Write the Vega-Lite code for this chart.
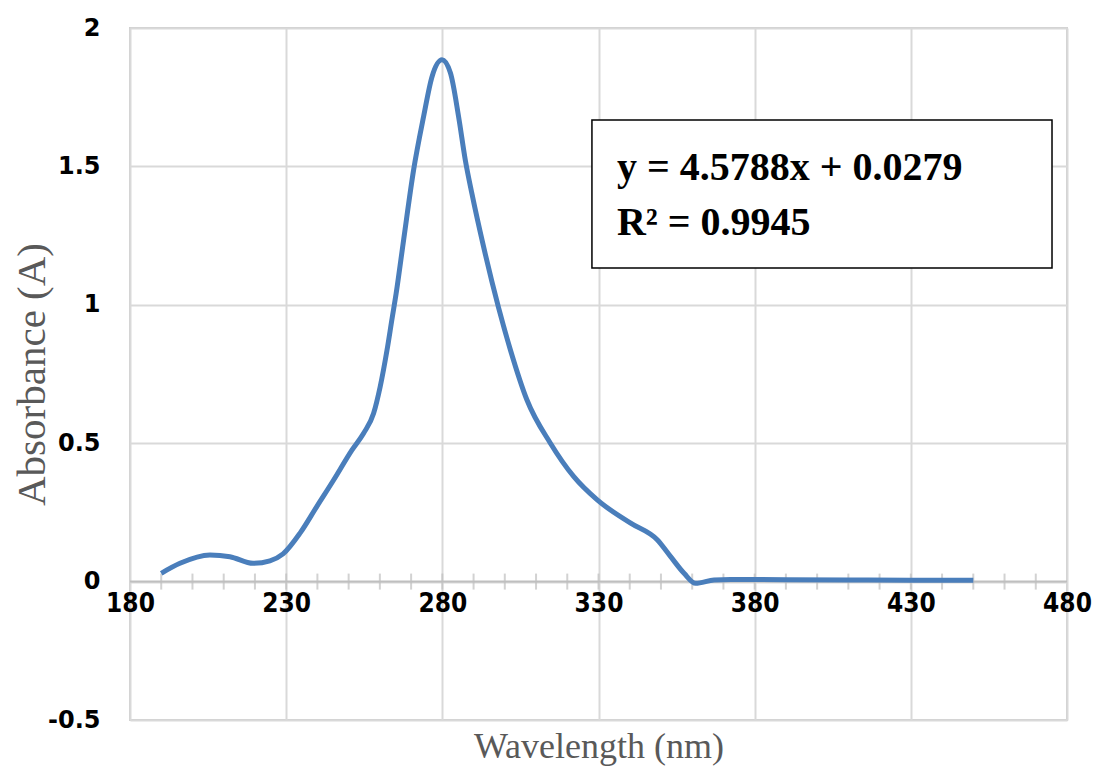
{
  "$schema": "https://vega.github.io/schema/vega-lite/v6.json",
  "width": 937,
  "height": 692,
  "autosize": {"type": "none"},
  "padding": {"left": 130, "top": 28, "right": 31, "bottom": 56},
  "background": "white",
  "config": {
    "view": {"stroke": "#cfcfcf", "strokeWidth": 2},
    "axis": {"labelFlush": false, "labelOverlap": false, "labelBound": false}
  },
  "datasets": {
    "spectrum": [
      {"wavelength": 190, "absorbance": 0.03},
      {"wavelength": 196, "absorbance": 0.066},
      {"wavelength": 205.6, "absorbance": 0.096},
      {"wavelength": 212, "absorbance": 0.09},
      {"wavelength": 219.4, "absorbance": 0.066},
      {"wavelength": 224.8, "absorbance": 0.075},
      {"wavelength": 229, "absorbance": 0.1},
      {"wavelength": 234.5, "absorbance": 0.176},
      {"wavelength": 239.8, "absorbance": 0.271},
      {"wavelength": 245.2, "absorbance": 0.367},
      {"wavelength": 251.1, "absorbance": 0.476},
      {"wavelength": 254.8, "absorbance": 0.536},
      {"wavelength": 258, "absorbance": 0.608},
      {"wavelength": 260.1, "absorbance": 0.704},
      {"wavelength": 262.3, "absorbance": 0.837},
      {"wavelength": 263.9, "absorbance": 0.95},
      {"wavelength": 265.2, "absorbance": 1.04},
      {"wavelength": 267.6, "absorbance": 1.234},
      {"wavelength": 270.8, "absorbance": 1.487},
      {"wavelength": 274, "absorbance": 1.68},
      {"wavelength": 276.7, "absorbance": 1.824},
      {"wavelength": 279.9, "absorbance": 1.885},
      {"wavelength": 282.6, "absorbance": 1.837},
      {"wavelength": 285.2, "absorbance": 1.68},
      {"wavelength": 287.4, "absorbance": 1.52},
      {"wavelength": 289.5, "absorbance": 1.4},
      {"wavelength": 293.2, "absorbance": 1.21},
      {"wavelength": 298, "absorbance": 0.99},
      {"wavelength": 301.8, "absorbance": 0.837},
      {"wavelength": 307.1, "absorbance": 0.656},
      {"wavelength": 314.6, "absorbance": 0.5},
      {"wavelength": 322.1, "absorbance": 0.379},
      {"wavelength": 329.6, "absorbance": 0.295},
      {"wavelength": 340.3, "absorbance": 0.211},
      {"wavelength": 348.8, "absorbance": 0.151},
      {"wavelength": 353.1, "absorbance": 0.09},
      {"wavelength": 357.4, "absorbance": 0.03},
      {"wavelength": 361.1, "absorbance": -0.006},
      {"wavelength": 367, "absorbance": 0.006},
      {"wavelength": 372.3, "absorbance": 0.008},
      {"wavelength": 390, "absorbance": 0.007},
      {"wavelength": 410, "absorbance": 0.006},
      {"wavelength": 430, "absorbance": 0.005},
      {"wavelength": 450, "absorbance": 0.005}
    ],
    "minorTicks": [
      {"wavelength": 190}, {"wavelength": 200}, {"wavelength": 210}, {"wavelength": 220},
      {"wavelength": 230}, {"wavelength": 240}, {"wavelength": 250}, {"wavelength": 260},
      {"wavelength": 270}, {"wavelength": 280}, {"wavelength": 290}, {"wavelength": 300},
      {"wavelength": 310}, {"wavelength": 320}, {"wavelength": 330}, {"wavelength": 340},
      {"wavelength": 350}, {"wavelength": 360}, {"wavelength": 370}, {"wavelength": 380},
      {"wavelength": 390}, {"wavelength": 400}, {"wavelength": 410}, {"wavelength": 420},
      {"wavelength": 430}, {"wavelength": 440}, {"wavelength": 450}, {"wavelength": 460},
      {"wavelength": 470}
    ],
    "annotation": [
      {"line1": "y = 4.5788x + 0.0279", "line2": "R² = 0.9945"}
    ]
  },
  "layer": [
    {
      "mark": {"type": "rule", "color": "#bfbfbf", "strokeWidth": 2},
      "data": {"values": [{}]},
      "encoding": {"y": {"datum": 0, "type": "quantitative"}}
    },
    {
      "data": {"name": "minorTicks"},
      "mark": {"type": "tick", "orient": "vertical", "size": 16, "thickness": 2, "color": "#bfbfbf"},
      "encoding": {
        "x": {"field": "wavelength", "type": "quantitative"},
        "y": {"datum": 0, "type": "quantitative"}
      }
    },
    {
      "data": {"name": "spectrum"},
      "mark": {"type": "line", "color": "#4a7ebb", "strokeWidth": 5, "interpolate": "monotone"},
      "encoding": {
        "x": {
          "field": "wavelength", "type": "quantitative",
          "scale": {"domain": [180, 480], "nice": false, "zero": false},
          "axis": {
            "orient": "bottom", "offset": -138.4,
            "values": [180, 230, 280, 330, 380, 430, 480],
            "grid": true, "gridColor": "#d9d9d9", "gridWidth": 2,
            "ticks": false, "tickSize": 0, "domain": false,
            "labelFont": "DejaVu Sans Condensed", "labelFontWeight": "bold", "labelFontSize": 26,
            "labelColor": "#000000", "labelPadding": 9,
            "title": "Wavelength (nm)",
            "titleFont": "Liberation Serif", "titleFontSize": 36, "titleFontWeight": "normal",
            "titleColor": "#595959", "titleBaseline": "top", "titleY": 148, "titleX": 468.5, "titleAlign": "center"
          }
        },
        "y": {
          "field": "absorbance", "type": "quantitative",
          "scale": {"domain": [-0.5, 2], "nice": false, "zero": false},
          "axis": {
            "values": [-0.5, 0, 0.5, 1, 1.5, 2],
            "labelExpr": "'' + datum.value",
            "grid": true, "gridColor": "#d9d9d9", "gridWidth": 2,
            "ticks": false, "tickSize": 0, "domain": false,
            "labelFont": "DejaVu Sans", "labelFontWeight": "bold", "labelFontSize": 24,
            "labelColor": "#000000", "labelPadding": 30,
            "title": "Absorbance (A)",
            "titleFont": "Liberation Serif", "titleFontSize": 41, "titleFontWeight": "normal",
            "titleColor": "#595959", "titleAngle": -90, "titleBaseline": "alphabetic",
            "titleX": -86, "titleY": 346, "titleAlign": "center"
          }
        }
      }
    },
    {
      "data": {"name": "annotation"},
      "mark": {"type": "rect", "fill": "white", "stroke": "#000000", "strokeWidth": 1.5},
      "encoding": {
        "x": {"datum": 327.9, "type": "quantitative"},
        "x2": {"datum": 475.2},
        "y": {"datum": 1.668, "type": "quantitative"},
        "y2": {"datum": 1.133}
      }
    },
    {
      "data": {"name": "annotation"},
      "mark": {"type": "text", "font": "Liberation Serif", "fontWeight": "bold", "fontSize": 40, "align": "left", "baseline": "alphabetic", "color": "#000000"},
      "encoding": {
        "x": {"datum": 335.9, "type": "quantitative"},
        "y": {"datum": 1.451, "type": "quantitative"},
        "text": {"field": "line1"}
      }
    },
    {
      "data": {"name": "annotation"},
      "mark": {"type": "text", "font": "Liberation Serif", "fontWeight": "bold", "fontSize": 40, "align": "left", "baseline": "alphabetic", "color": "#000000"},
      "encoding": {
        "x": {"datum": 335.9, "type": "quantitative"},
        "y": {"datum": 1.252, "type": "quantitative"},
        "text": {"field": "line2"}
      }
    }
  ]
}
